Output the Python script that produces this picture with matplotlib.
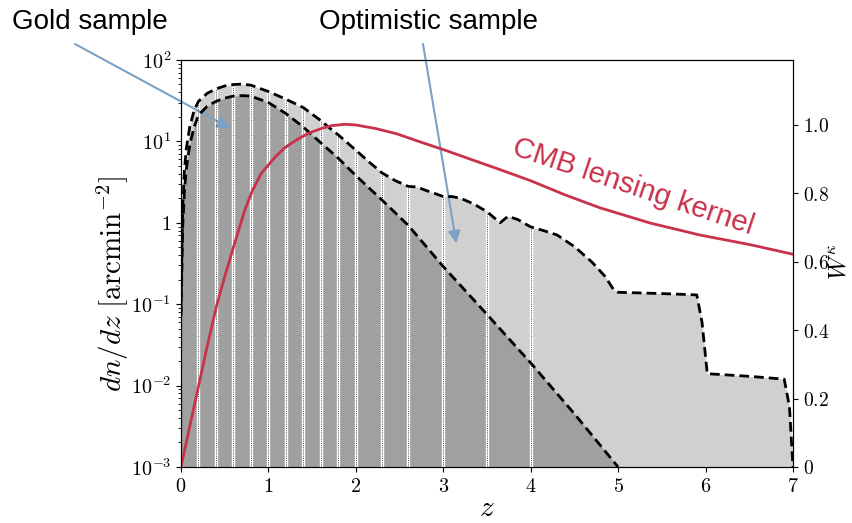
import numpy as np
import matplotlib.pyplot as plt
from matplotlib.ticker import FuncFormatter, FixedLocator

plt.rcParams['mathtext.fontset'] = 'cm'

# ---------------- data ----------------
z_opt = [0, 0.01, 0.02, 0.04, 0.06, 0.1, 0.15, 0.2, 0.3, 0.4, 0.5, 0.6, 0.7, 0.8,
         1.0, 1.2, 1.4, 1.6, 1.7, 1.8, 2.0, 2.15, 2.3, 2.45, 2.6, 2.7, 2.8, 2.9,
         3.0, 3.1, 3.2, 3.35, 3.5, 3.65, 3.74, 3.85, 4.0, 4.15, 4.3, 4.5, 4.7,
         4.85, 4.95, 5.0, 5.5, 5.9, 5.96, 6.02, 6.5, 6.9, 6.96, 7.0]
n_opt = [0.08, 0.4, 1.5, 4.5, 8, 15, 24, 31, 39, 44, 48, 50, 50.5, 49,
         41, 33, 26, 18, 14.6, 12, 7.8, 5.6, 4.1, 3.3, 2.8, 2.75, 2.5, 2.3,
         2.1, 2.1, 2.0, 1.7, 1.37, 1.0, 1.2, 1.1, 0.89, 0.8, 0.71, 0.51, 0.33,
         0.22, 0.15, 0.14, 0.135, 0.13, 0.06, 0.014, 0.013, 0.012, 0.0055, 0.001]

z_gold = [0, 0.01, 0.02, 0.04, 0.06, 0.1, 0.15, 0.2, 0.3, 0.4, 0.5, 0.6, 0.7, 0.8,
          1.0, 1.2, 1.4, 1.6, 1.8, 2.0, 2.3, 2.6, 3.0, 3.5, 4.0, 4.5, 5.0]
n_gold = [0.07, 0.25, 0.9, 2.5, 4.5, 9, 15, 21, 27, 31, 34, 36, 36.5, 36,
          30, 22, 15, 9.6, 6.2, 3.8, 1.9, 0.93, 0.29, 0.075, 0.019, 0.0045, 0.001]

z_kernel = [0, 0.1, 0.2, 0.29, 0.41, 0.5, 0.59, 0.73, 0.82, 0.92, 1.08, 1.19, 1.32,
            1.46, 1.61, 1.72, 1.88, 2.0, 2.22, 2.47, 2.73, 3.0, 3.31, 3.61, 3.99,
            4.4, 4.79, 5.37, 5.94, 6.51, 7.0]
w_kernel = [0, 0.118, 0.235, 0.342, 0.474, 0.556, 0.634, 0.751, 0.81, 0.859, 0.907, 0.934, 0.956,
            0.976, 0.99, 0.998, 1.002, 1.0, 0.99, 0.974, 0.951, 0.928, 0.90, 0.873, 0.838,
            0.795, 0.758, 0.713, 0.678, 0.65, 0.622]

bin_edges = [0.2, 0.4, 0.6, 0.8, 1.0, 1.2, 1.4, 1.6, 1.8, 2.0, 2.3, 2.6, 3.0, 3.5, 4.0]

left_ticks = [1e-3, 1e-2, 1e-1, 1, 10, 100]
left_labels = [r'$10^{-3}$', r'$10^{-2}$', r'$10^{-1}$', r'$1$', r'$10^{1}$', r'$10^{2}$']
right_ticks = [0, 0.2, 0.4, 0.6, 0.8, 1.0]

# ---------------- figure ----------------
fig = plt.figure(figsize=(8.52, 5.23), dpi=100)
ax = fig.add_axes([0.2124, 0.1071, 0.7183, 0.7782])

ymin = 1e-3
ax.fill_between(z_opt, ymin, n_opt, color='#d0d0d0', lw=0, zorder=1)
ax.fill_between(z_gold, ymin, n_gold, color='#a0a0a0', lw=0, zorder=2)

edge_tops = np.interp(bin_edges, z_opt, n_opt)
ax.vlines(bin_edges, ymin, edge_tops, color='white', lw=2.4, zorder=3)
ax.vlines(bin_edges, ymin, edge_tops, color='#505050', lw=0.7, linestyles=(0, (1, 1.2)), zorder=4)

ax.plot(z_opt, n_opt, color='black', lw=2, ls=(0, (3.5, 1.8)), zorder=5)
ax.plot(z_gold, n_gold, color='black', lw=2, ls=(0, (3.5, 1.8)), zorder=5)

ax.set_yscale('log')
ax.set_xlim(0, 7)
ax.set_ylim(1e-3, 1e2)
ax.yaxis.set_major_locator(FixedLocator(left_ticks))
ax.set_yticklabels(left_labels)
ax.set_xticks(range(8))
ax.xaxis.set_major_formatter(FuncFormatter(lambda v, p: r'$%d$' % v))
ax.tick_params(labelsize=14.5, direction='out')
ax.tick_params(which='minor', direction='out')
ax.set_xlabel(r'$z$', fontsize=21)
ax.xaxis.label.set_va('center')
ax.xaxis.set_label_coords(0.5, -0.1)
ax.set_ylabel(r'$dn/dz\ [\mathrm{arcmin}^{-2}]$', fontsize=21)
ax.yaxis.label.set_va('center')
ax.yaxis.set_label_coords(-0.112, 0.45)

ax2 = ax.twinx()
ax2.plot(z_kernel, w_kernel, color='#c8324a', lw=2)
ax2.set_ylim(0, 1.19)
ax2.set_yticks(right_ticks)
ax2.yaxis.set_major_formatter(FuncFormatter(lambda v, p: r'$0$' if v == 0 else r'$%.1f$' % v))
ax2.tick_params(labelsize=14, direction='out')
ax2.set_ylabel(r'$W^{\kappa}$', fontsize=17, rotation=90)
ax2.yaxis.label.set_va('center')
ax2.yaxis.set_label_coords(1.0745, 0.505)

ax2.text(5.17, 0.82, 'CMB lensing kernel', color='#c8324a', fontsize=21,
         family='Liberation Sans', rotation=-18.5, ha='center', va='center')

# labels and arrows
fig.text(90 / 852, 1 - 22 / 523, 'Gold sample', ha='center', va='center',
         fontsize=20, family='Liberation Sans')
fig.text(428 / 852, 1 - 22 / 523, 'Optimistic sample', ha='center', va='center',
         fontsize=20, family='Liberation Sans')
arrow = dict(arrowstyle='-|>', color='#7aa2c6', lw=1.5, mutation_scale=18,
             shrinkA=0, shrinkB=0)
ax.annotate('', xy=(0.56, 14.6), xytext=(75 / 852, 1 - 44 / 523),
            textcoords='figure fraction', annotation_clip=False, arrowprops=arrow)
ax.annotate('', xy=(3.15, 0.56), xytext=(423 / 852, 1 - 44 / 523),
            textcoords='figure fraction', annotation_clip=False, arrowprops=arrow)

fig.savefig('out.png', dpi=100)
